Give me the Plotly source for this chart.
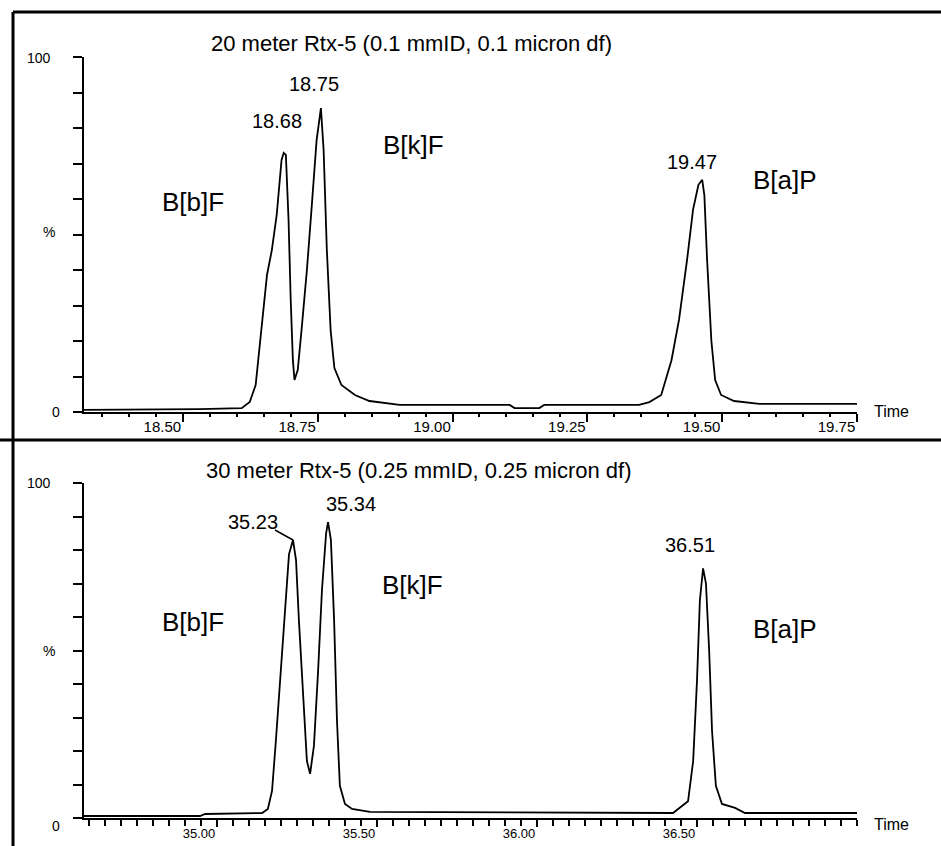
"""Chromatogram comparison: 20 m vs 30 m Rtx-5 columns"""
import plotly.graph_objects as go

# 20 meter column trace (time in min, relative intensity %)
top_time = [18.315, 18.439, 18.531, 18.609, 18.624, 18.635, 18.646, 18.656, 18.665,
            18.674, 18.683, 18.687, 18.691, 18.696, 18.700, 18.704, 18.707, 18.713,
            18.720, 18.730, 18.739, 18.748, 18.756, 18.761, 18.767, 18.774, 18.781,
            18.794, 18.819, 18.846, 18.902, 19.106, 19.115, 19.161, 19.170, 19.346,
            19.365, 19.387, 19.406, 19.420, 19.435, 19.446, 19.456, 19.463, 19.467,
            19.472, 19.480, 19.487, 19.498, 19.522, 19.569, 19.750]
top_pct = [0.6, 0.6, 0.8, 1.1, 2.8, 7.6, 23.0, 38.6, 45.6,
           55.5, 71.0, 73.0, 72.4, 54.0, 31.5, 14.6, 9.0, 11.8,
           23.0, 40.0, 58.0, 76.6, 85.6, 73.8, 45.6, 23.0, 12.4,
           7.6, 4.8, 3.1, 2.0, 2.0, 1.1, 1.1, 2.0, 2.0,
           2.8, 4.8, 14.6, 26.0, 43.0, 57.0, 64.0, 65.4, 61.0,
           43.0, 20.0, 9.0, 4.8, 3.1, 2.3, 2.3]

# 30 meter column trace
bot_time = [34.584, 34.947, 34.963, 35.141, 35.159, 35.172, 35.184, 35.197, 35.213,
            35.225, 35.2375, 35.247, 35.256, 35.269, 35.281, 35.291, 35.303, 35.316,
            35.328, 35.341, 35.347, 35.356, 35.366, 35.375, 35.384, 35.400, 35.422,
            35.478, 36.059, 36.425, 36.472, 36.488, 36.500, 36.509, 36.519, 36.528,
            36.538, 36.547, 36.559, 36.578, 36.619, 36.650, 37.000]
bot_pct = [0.6, 0.6, 1.2, 1.5, 2.7, 8.1, 23.0, 41.0, 65.0,
           78.7, 83.0, 77.0, 59.0, 35.0, 17.0, 13.2, 21.6, 44.0,
           68.0, 85.0, 88.3, 83.0, 59.0, 29.0, 9.6, 4.2, 2.7,
           1.8, 1.5, 1.5, 5.0, 17.0, 41.0, 65.0, 74.5, 70.0,
           50.0, 26.0, 9.6, 4.2, 3.0, 1.5, 1.5]

top_ticks = [18.50, 18.75, 19.00, 19.25, 19.50, 19.75]
bot_ticks = [35.00, 35.50, 36.00, 36.50]
pct_ticks = list(range(0, 101, 10))

W, H = 941, 846
FONT = "Arial, Liberation Sans, sans-serif"


def px(x):
    return x / W


def py(y):
    return 1 - y / H


fig = go.Figure()

fig.add_trace(go.Scatter(x=top_time, y=top_pct, mode="lines", xaxis="x", yaxis="y",
                         line=dict(color="black", width=1.8), showlegend=False))
fig.add_trace(go.Scatter(x=bot_time, y=bot_pct, mode="lines", xaxis="x2", yaxis="y2",
                         line=dict(color="black", width=1.8), showlegend=False))

xcommon = dict(showline=True, linecolor="black", linewidth=2, showgrid=False,
               zeroline=False, ticks="outside", tickcolor="black",
               ticklabelposition="outside left",
               tickfont=dict(family=FONT, size=15, color="black"))
ycommon = dict(showline=True, linecolor="black", linewidth=2, showgrid=False,
               zeroline=False, ticks="outside", tickcolor="black", ticklen=9,
               tickwidth=1.5, range=[0, 100], tickvals=pct_ticks,
               showticklabels=False, fixedrange=True)

fig.update_layout(
    width=W, height=H,
    margin=dict(l=0, r=0, t=0, b=0),
    paper_bgcolor="white", plot_bgcolor="white",
    xaxis=dict(xcommon, domain=[px(84), px(857)], range=[18.3167, 19.75],
               anchor="y", tickvals=top_ticks,
               ticktext=[f"{v:.2f}" for v in top_ticks], ticklen=8, tickwidth=1.5,
               minor=dict(dtick=0.05, tick0=18.5, ticklen=3, tickcolor="black",
                          ticks="outside")),
    yaxis=dict(ycommon, domain=[py(412), py(57)], anchor="x"),
    xaxis2=dict(xcommon, domain=[px(84), px(857)], range=[34.5844, 37.0],
                anchor="y2", tickvals=bot_ticks,
                ticktext=[f"{v:.2f}" for v in bot_ticks], ticklen=7, tickwidth=1.5,
                ticklabelstandoff=2,
                tickfont=dict(family=FONT, size=13, color="black"),
                minor=dict(dtick=0.05, tick0=35.0, ticklen=6, tickcolor="black",
                           ticks="outside")),
    yaxis2=dict(ycommon, domain=[py(818), py(483)], anchor="x2"),
)

texts = [
    # (text, x px, y px, size, anchor)
    ("20 meter Rtx-5 (0.1 mmID, 0.1 micron df)", 411, 44, 22, "center"),
    ("18.75", 314, 84, 20, "center"),
    ("18.68", 277, 121, 20, "center"),
    ("B[k]F", 413, 145, 26, "center"),
    ("B[b]F", 193, 202, 26, "center"),
    ("19.47", 692, 162, 20, "center"),
    ("B[a]P", 785, 180, 26, "center"),
    ("30 meter Rtx-5 (0.25 mmID, 0.25 micron df)", 418, 470, 22, "center"),
    ("35.23", 253, 522, 20, "center"),
    ("35.34", 351, 504, 20, "center"),
    ("B[k]F", 412, 585, 26, "center"),
    ("B[b]F", 193, 622, 26, "center"),
    ("36.51", 690, 545, 20, "center"),
    ("B[a]P", 785, 629, 26, "center"),
    ("100", 53, 58, 14, "right"),
    ("%", 57, 232, 14, "right"),
    ("0", 62, 412, 14, "right"),
    ("100", 53, 483, 14, "right"),
    ("%", 57, 651, 14, "right"),
    ("0", 62, 826, 14, "right"),
    ("Time", 872, 411, 16, "left"),
    ("Time", 872, 824, 16, "left"),
]
for txt, x, y, size, anchor in texts:
    fig.add_annotation(text=txt, x=px(x), y=py(y), xref="paper", yref="paper",
                       xanchor=anchor, yanchor="middle", showarrow=False,
                       font=dict(family=FONT, size=size, color="black"))

# leader line for 35.23 label
fig.add_shape(type="line", xref="paper", yref="paper",
              x0=px(275), y0=py(530), x1=px(293), y1=py(540),
              line=dict(color="black", width=1.5))

# page frame: left edge, top edge, divider between the panels
frame = dict(color="black", width=3)
fig.add_shape(type="line", xref="paper", yref="paper",
              x0=px(13), y0=py(12), x1=px(13), y1=0, line=frame)
fig.add_shape(type="line", xref="paper", yref="paper",
              x0=px(13), y0=py(12), x1=1, y1=py(12), line=frame)
fig.add_shape(type="line", xref="paper", yref="paper",
              x0=0, y0=py(440), x1=1, y1=py(440), line=frame)

# drop the default page margin so the figure sits at the window's corner
fig.write_html("out.html", config=dict(displayModeBar=False),
               post_script="document.body.style.margin='0';"
                           "document.body.style.overflow='hidden';")
